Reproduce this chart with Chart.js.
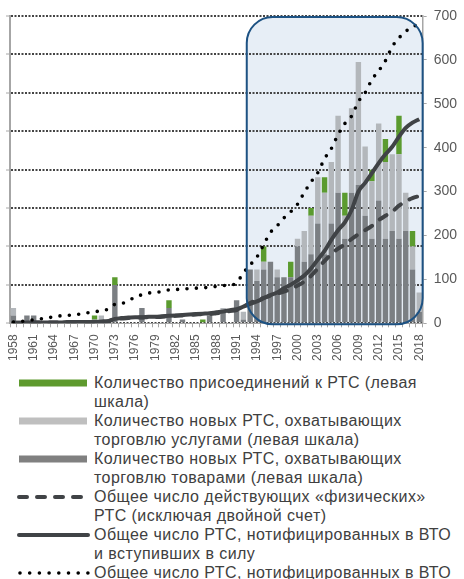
<!DOCTYPE html>
<html>
<head>
<meta charset="utf-8">
<script src="https://cdn.jsdelivr.net/npm/chart.js@4.4.1/dist/chart.umd.min.js"></script>
<style>
	html, body { margin: 0; padding: 0; background: #fff; }
	body { width: 464px; height: 579px; overflow: hidden; font-family: "Liberation Sans", Arial, sans-serif; }
	#wrap { position: relative; width: 464px; height: 370px; }
	#legend { position: absolute; left: 0; top: 373px; width: 464px; color: #404040; font-size: 16px; letter-spacing: 0.45px; line-height: 19px; }
	.row { position: relative; padding-left: 94px; white-space: nowrap; }
	.row svg { position: absolute; left: 16px; top: 6px; }
</style>
</head>
<body>
<div id="wrap"><canvas id="chart"></canvas></div>
<div id="legend"></div>
<script>
const years = [];
for (let y = 1958; y <= 2018; y++) years.push(String(y));

// new RTAs covering goods (left axis)
const goods = [
	2, 0, 2, 2, 0, 0, 0, 0, 0, 0,
	0, 0, 1, 0, 0, 10, 0, 0, 0, 4,
	0, 0, 0, 4, 0, 1, 0, 0, 0, 2,
	0, 3, 0, 6, 1, 14, 11, 14, 16, 12,
	12, 12, 20, 16, 18, 26, 18, 26, 34, 22,
	34, 36, 28, 22, 32, 22, 24, 22, 24, 14,
	3
];

// new RTAs covering services (left axis)
const services = [
	2, 0, 0, 0, 0, 0, 0, 0, 0, 0,
	0, 0, 0, 2, 0, 0, 0, 0, 0, 0,
	0, 0, 0, 0, 0, 0, 0, 0, 0, 0,
	0, 1, 0, 0, 2, 0, 3, 2, 0, 2,
	0, 0, 2, 8, 10, 12, 16, 16, 20, 6,
	22, 32, 18, 15, 20, 20, 20, 22, 10, 6,
	5
];

// accessions to RTAs (left axis)
const accessions = [
	0, 0, 0, 0, 0, 0, 0, 0, 0, 0,
	0, 0, 1, 0, 0, 2, 0, 0, 0, 0,
	0, 0, 0, 2, 0, 0, 0, 0, 1, 0,
	0, 0, 0, 0, 0, 0, 0, 4, 0, 0,
	0, 4, 0, 0, 2, 0, 4, 0, 0, 6,
	0, 0, 0, 3, 0, 6, 0, 10, 0, 4,
	0
];

// cumulative totals (right axis)
const physical = [
	1, 1, 2, 2, 2, 2, 2, 2, 3, 3,
	3, 3, 3, 4, 5, 9, 11, 12, 13, 13,
	14, 14, 15, 16, 17, 18, 19, 20, 21, 21,
	23, 25, 28, 30, 38, 46, 53, 58, 63, 68,
	72, 78, 86, 95, 108, 125, 142, 158, 170, 180,
	192, 203, 212, 222, 235, 245, 254, 268, 278, 285,
	290
];

const inForce = [
	1, 1, 2, 2, 2, 2, 2, 2, 3, 3,
	3, 3, 3, 4, 5, 10, 12, 13, 14, 14,
	15, 15, 16, 17, 18, 19, 20, 21, 22, 23,
	25, 27, 30, 32, 38, 44, 50, 57, 64, 70,
	80, 88, 98, 109, 125, 145, 165, 190, 212, 230,
	258, 300, 320, 342, 365, 385, 402, 425, 445, 457,
	465
];

const notified = [
	3, 4, 6, 8, 10, 12, 15, 17, 18, 20,
	21, 24, 26, 29, 32, 43, 45, 51, 60, 65,
	69, 70, 73, 76, 77, 78, 79, 80, 81, 82,
	84, 86, 87, 92, 115, 133, 151, 179, 207, 222,
	240, 254, 271, 298, 322, 343, 375, 398, 430, 455,
	472, 505, 525, 555, 575, 598, 630, 650, 665, 675,
	682
];

const leftTicks = { min: 0, max: 80, step: 10 };
const rightTicks = { min: 0, max: 700, step: 100 };

const C_GOODS = '#7b7f83';
const C_SERV = '#b3b7bb';
const C_ACC = '#5b9b2f';
const C_LINE = '#404346';

// highlighted period 1993-2018 behind the bars
const boxPlugin = {
	id: 'box',
	_rect(chart) {
		const x = chart.scales.x, y1 = chart.scales.y1;
		const half = (x.getPixelForValue(1) - x.getPixelForValue(0)) / 2;
		return {
			l: x.getPixelForValue(years.indexOf('1993')) - half,
			r: x.getPixelForValue(years.indexOf('2018')) + half,
			t: y1.getPixelForValue(700) + 1,
			b: y1.getPixelForValue(0) + 1
		};
	},
	_path(ctx, r, rad) {
		ctx.beginPath();
		ctx.roundRect(r.l, r.t, r.r - r.l, r.b - r.t, rad);
	},
	beforeDraw(chart) {
		const ctx = chart.ctx, r = this._rect(chart);
		ctx.save();
		this._path(ctx, r, 26);
		ctx.fillStyle = '#e7eef6';
		ctx.fill();
		ctx.restore();
	},
	afterDatasetsDraw(chart) {
		const ctx = chart.ctx, r = this._rect(chart);
		ctx.save();
		this._path(ctx, r, 26);
		ctx.strokeStyle = '#1d5283';
		ctx.lineWidth = 2;
		ctx.stroke();
		ctx.restore();
	}
};

const lineBase = {
	type: 'line',
	yAxisID: 'y1',
	pointRadius: 0,
	fill: false,
	cubicInterpolationMode: 'monotone',
	order: 0
};

new Chart(document.getElementById('chart'), {
	type: 'bar',
	plugins: [boxPlugin],
	data: {
		labels: years,
		datasets: [
			{ ...lineBase, label: 'notified', data: notified, borderColor: '#000', borderWidth: 3.6, borderDash: [0, 9.4], borderCapStyle: 'round' },
			{ ...lineBase, label: 'inForce', data: inForce, borderColor: C_LINE, borderWidth: 4 },
			{ ...lineBase, label: 'physical', data: physical, borderColor: C_LINE, borderWidth: 4, borderDash: [8, 10], borderCapStyle: 'round' },
			{ label: 'goods', data: goods, backgroundColor: C_GOODS, stack: 's', order: 1 },
			{ label: 'services', data: services, backgroundColor: C_SERV, stack: 's', order: 1 },
			{ label: 'accessions', data: accessions, backgroundColor: C_ACC, stack: 's', order: 1 }
		]
	},
	options: {
		responsive: true,
		maintainAspectRatio: false,
		animation: false,
		layout: { padding: { left: 6, right: 0, top: 16, bottom: 2 } },
		datasets: { bar: { categoryPercentage: 1, barPercentage: 0.8 } },
		plugins: { legend: { display: false }, tooltip: { enabled: false } },
		scales: {
			x: {
				stacked: true,
				grid: { drawOnChartArea: false, drawTicks: true, tickLength: 4, color: '#a6a6a6' },
				border: { color: '#a6a6a6', width: 1 },
				ticks: {
					autoSkip: false,
					minRotation: 90,
					maxRotation: 90,
					padding: 7,
					color: '#595959',
					font: { family: 'Liberation Sans', size: 12 },
					callback: (v, i) => i % 3 === 0 ? years[i] : ''
				}
			},
			y: {
				stacked: true,
				position: 'left',
				min: leftTicks.min,
				max: leftTicks.max,
				ticks: { stepSize: leftTicks.step, display: false },
				grid: {
					color: '#444',
					lineWidth: 2,
					tickLength: 4,
					tickColor: '#a6a6a6',
					tickBorderDash: [],
					tickWidth: 1
				},
				border: { color: '#a6a6a6', width: 2, dash: [2, 1.5] }
			},
			y1: {
				position: 'right',
				min: rightTicks.min,
				max: rightTicks.max,
				ticks: {
					stepSize: rightTicks.step,
					padding: 7,
					color: '#595959',
					font: { family: 'Liberation Sans', size: 14 }
				},
				grid: { drawOnChartArea: false, tickLength: 4, color: '#a6a6a6' },
				border: { color: '#a6a6a6', width: 1.5 }
			}
		}
	}
});

// legend below the chart
const legendItems = [
	{ kind: 'bar', color: '#5e9a2e', text: 'Количество присоединений к РТС (левая<br>шкала)' },
	{ kind: 'bar', color: '#bfbfbf', text: 'Количество новых РТС, охватывающих<br>торговлю услугами (левая шкала)' },
	{ kind: 'bar', color: '#808080', text: 'Количество новых РТС, охватывающих<br>торговлю товарами (левая шкала)' },
	{ kind: 'dash', color: C_LINE, text: 'Общее число действующих «физических»<br>РТС (исключая двойной счет)' },
	{ kind: 'solid', color: C_LINE, text: 'Общее число РТС, нотифицированных в ВТО<br>и вступивших в силу' },
	{ kind: 'dot', color: '#000', text: 'Общее число РТС, нотифицированных в ВТО' }
];

const legend = document.getElementById('legend');
legendItems.forEach(it => {
	let line;
	if (it.kind === 'bar')
		line = `<line x1="3" y1="4" x2="71" y2="4" stroke="${it.color}" stroke-width="7"/>`;
	else if (it.kind === 'dash')
		line = `<line x1="3" y1="4" x2="71" y2="4" stroke="${it.color}" stroke-width="4" stroke-linecap="round" stroke-dasharray="8 10"/>`;
	else if (it.kind === 'solid')
		line = `<line x1="3" y1="4" x2="72" y2="4" stroke="${it.color}" stroke-width="4" stroke-linecap="round"/>`;
	else
		line = `<line x1="4" y1="4" x2="72" y2="4" stroke="${it.color}" stroke-width="3.6" stroke-linecap="round" stroke-dasharray="0 9.7"/>`;
	const row = document.createElement('div');
	row.className = 'row';
	row.innerHTML = `<svg width="76" height="8">${line}</svg>${it.text}`;
	legend.appendChild(row);
});
</script>
</body>
</html>
